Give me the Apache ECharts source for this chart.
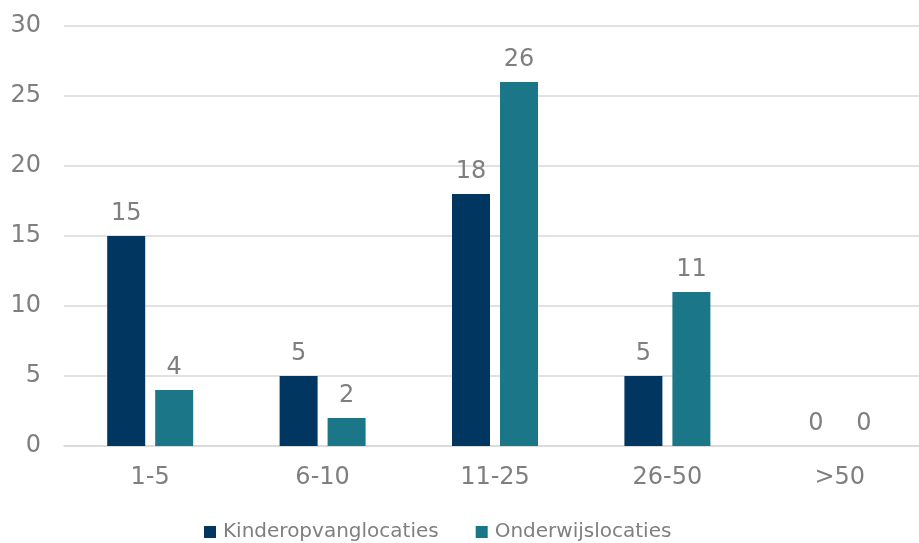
<!DOCTYPE html>
<html><head><meta charset="utf-8">
<script src="https://cdn.jsdelivr.net/npm/echarts@6/dist/echarts.min.js"></script>
<style>html,body{margin:0;padding:0;background:#fff}#c{width:919px;height:543px}</style>
</head><body><div id="c"></div>
<script>
const categories = ['1-5', '6-10', '11-25', '26-50', '>50'];
const kinderopvang = [15, 5, 18, 5, 0];
const onderwijs = [4, 2, 26, 11, 0];
const seriesNames = ['Kinderopvanglocaties', 'Onderwijslocaties'];

const FONT = 'DejaVu Sans';
const TXT = '#7f7f7f';
const chart = echarts.init(document.getElementById('c'), null, {renderer: 'canvas'});
const label = {show: true, position: 'top', distance: 10, color: TXT, fontFamily: FONT, fontSize: 24};
chart.setOption({
  animation: false,
  textStyle: {fontFamily: FONT},
  grid: {left: 64, width: 862, top: 26, bottom: 97, containLabel: false, outerBoundsMode: 'none'},
  legend: {
    data: seriesNames, bottom: -4, left: 199, itemWidth: 12, itemHeight: 12, itemGap: 37,
    icon: 'rect',
    textStyle: {color: TXT, fontFamily: FONT, fontSize: 20, padding: [0, 0, 0, 2]}
  },
  xAxis: {
    type: 'category', data: categories,
    axisLine: {show: true, lineStyle: {color: '#d9d9d9', width: 1.5}},
    axisTick: {show: false},
    axisLabel: {color: TXT, fontFamily: FONT, fontSize: 24, margin: 20}
  },
  yAxis: {
    type: 'value', min: 0, max: 30, interval: 5,
    axisLine: {show: false}, axisTick: {show: false},
    axisLabel: {color: TXT, fontFamily: FONT, fontSize: 24, margin: 23},
    splitLine: {lineStyle: {color: '#d9d9d9', width: 1.5}}
  },
  series: [
    {name: seriesNames[0], type: 'bar', data: kinderopvang, barWidth: 38, barGap: '26.3%',
     itemStyle: {color: '#003660'}, label: label},
    {name: seriesNames[1], type: 'bar', data: onderwijs, barWidth: 38,
     itemStyle: {color: '#1b7788'}, label: label}
  ]
});
</script></body></html>
